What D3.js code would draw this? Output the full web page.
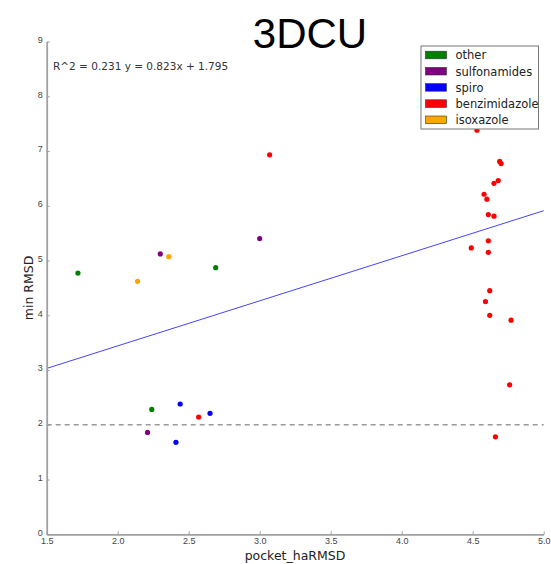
<!DOCTYPE html>
<html>
<head>
<meta charset="utf-8">
<script src="https://cdn.jsdelivr.net/npm/d3@7"></script>
<style>
  body { margin: 0; background: #fff; }
  svg { display: block; font-family: "DejaVu Sans", sans-serif; }
</style>
</head>
<body>
<div id="chart"></div>
<script>
const width = 551;
const height = 564;
const margin = { top: 41.5, right: 7.3, bottom: 29.7, left: 46.7 };

const categories = ['other', 'sulfonamides', 'spiro', 'benzimidazole', 'isoxazole'];
const colors = ['#008000', '#800080', '#0000ff', '#ff0000', '#ffa500'];

// pocket_haRMSD / min RMSD per group
const otherX = [1.72, 2.69, 2.24];
const otherY = [4.77, 4.87, 2.28];
const sulfoX = [2.30, 3.00, 2.21];
const sulfoY = [5.12, 5.40, 1.86];
const spiroX = [2.44, 2.65, 2.41];
const spiroY = [2.38, 2.21, 1.68];
const benzX = [2.57, 3.07, 4.53, 4.69, 4.70, 4.68, 4.65, 4.58, 4.60, 4.61, 4.65, 4.61, 4.49, 4.61, 4.62, 4.59, 4.62, 4.77, 4.76, 4.66];
const benzY = [2.14, 6.93, 7.38, 6.81, 6.77, 6.46, 6.41, 6.21, 6.12, 5.84, 5.81, 5.36, 5.23, 5.15, 4.45, 4.25, 4.00, 3.91, 2.73, 1.78];
const isoxX = [2.36, 2.14];
const isoxY = [5.07, 4.62];

const xTicks = [1.5, 2.0, 2.5, 3.0, 3.5, 4.0, 4.5, 5.0];
const yTicks = [0, 1, 2, 3, 4, 5, 6, 7, 8, 9];

const slope = 0.823;
const intercept = 1.795;
const threshold = 2;

const groups = [
  { xs: otherX, ys: otherY },
  { xs: sulfoX, ys: sulfoY },
  { xs: spiroX, ys: spiroY },
  { xs: benzX, ys: benzY },
  { xs: isoxX, ys: isoxY },
];

const points = [];
groups.forEach((g, gi) => {
  g.xs.forEach((v, i) => points.push({ x: v, y: g.ys[i], color: colors[gi] }));
});

const svg = d3.select('#chart')
  .append('svg')
  .attr('width', width)
  .attr('height', height);

const x = d3.scaleLinear()
  .domain([1.5, 5.0])
  .range([margin.left, width - margin.right]);

const y = d3.scaleLinear()
  .domain([0, 9])
  .range([height - margin.bottom, margin.top]);

// dashed threshold line
svg.append('line')
  .attr('x1', x(1.5)).attr('x2', x(5.0))
  .attr('y1', y(threshold)).attr('y2', y(threshold))
  .attr('stroke', '#999')
  .attr('stroke-width', 1.5)
  .attr('stroke-dasharray', '5,4');

// fit line
svg.append('line')
  .attr('x1', x(1.5)).attr('x2', x(5.0))
  .attr('y1', y(slope * 1.5 + intercept)).attr('y2', y(slope * 5.0 + intercept))
  .attr('stroke', '#4444ff')
  .attr('stroke-width', 1);

svg.append('g')
  .selectAll('circle')
  .data(points)
  .join('circle')
    .attr('cx', d => x(d.x))
    .attr('cy', d => y(d.y))
    .attr('r', 2.6)
    .attr('fill', d => d.color);

// axes
function xAxis(g) {
  g.attr('transform', `translate(0,${height - margin.bottom})`)
    .call(d3.axisBottom(x).tickValues(xTicks).tickFormat(d3.format('.1f')).tickSizeInner(-3).tickSizeOuter(0).tickPadding(3))
    .attr('font-size', '9px');
  g.select('.domain').attr('stroke', '#a0a0a0').attr('stroke-width', 1.8);
  g.selectAll('.tick line').attr('stroke', '#a0a0a0');
  g.selectAll('.tick text').attr('fill', '#444');
}

function yAxis(g) {
  g.attr('transform', `translate(${margin.left},0)`)
    .call(d3.axisLeft(y).tickValues(yTicks).tickSizeInner(-3).tickSizeOuter(0).tickPadding(4))
    .attr('font-size', '9px');
  g.select('.domain').attr('stroke', '#a0a0a0').attr('stroke-width', 1.8);
  g.selectAll('.tick line').attr('stroke', '#a0a0a0');
  g.selectAll('.tick text').attr('fill', '#444').attr('dy', '0.1em');
}

svg.append('g').call(xAxis);
svg.append('g').call(yAxis);

// labels
svg.append('text')
  .attr('x', 310).attr('y', 48)
  .attr('text-anchor', 'middle')
  .attr('font-family', '"Liberation Sans", Arial, sans-serif')
  .attr('font-size', '42px')
  .text('3DCU');

svg.append('text')
  .attr('x', 295).attr('y', 560)
  .attr('text-anchor', 'middle')
  .attr('font-size', '12.5px')
  .attr('fill', '#222')
  .text('pocket_haRMSD');

svg.append('text')
  .attr('transform', `translate(33,${(margin.top + height - margin.bottom) / 2}) rotate(-90)`)
  .attr('text-anchor', 'middle')
  .attr('font-size', '12.5px')
  .attr('fill', '#222')
  .text('min RMSD');

svg.append('text')
  .attr('x', 53).attr('y', 69.5)
  .attr('font-size', '10.5px')
  .attr('fill', '#333')
  .text(`R^2 = 0.231 y = ${slope}x + ${intercept}`);

// legend
const legend = svg.append('g').attr('transform', 'translate(421,46)');
legend.append('rect')
  .attr('width', 117.5).attr('height', 83)
  .attr('fill', '#fff')
  .attr('stroke', '#777')
  .attr('stroke-width', 1);

const item = legend.selectAll('g.item')
  .data(categories)
  .join('g')
    .attr('class', 'item')
    .attr('transform', (d, i) => `translate(0,${9 + i * 16.2})`);

item.append('rect')
  .attr('x', 4.5).attr('y', -3.8)
  .attr('width', 21).attr('height', 7.6)
  .attr('fill', (d, i) => colors[i])
  .attr('stroke', '#333')
  .attr('stroke-width', 0.6);

item.append('text')
  .attr('x', 34.5).attr('y', 4.3)
  .attr('font-size', '11.5px')
  .attr('fill', '#222')
  .text(d => d);
</script>
</body>
</html>
